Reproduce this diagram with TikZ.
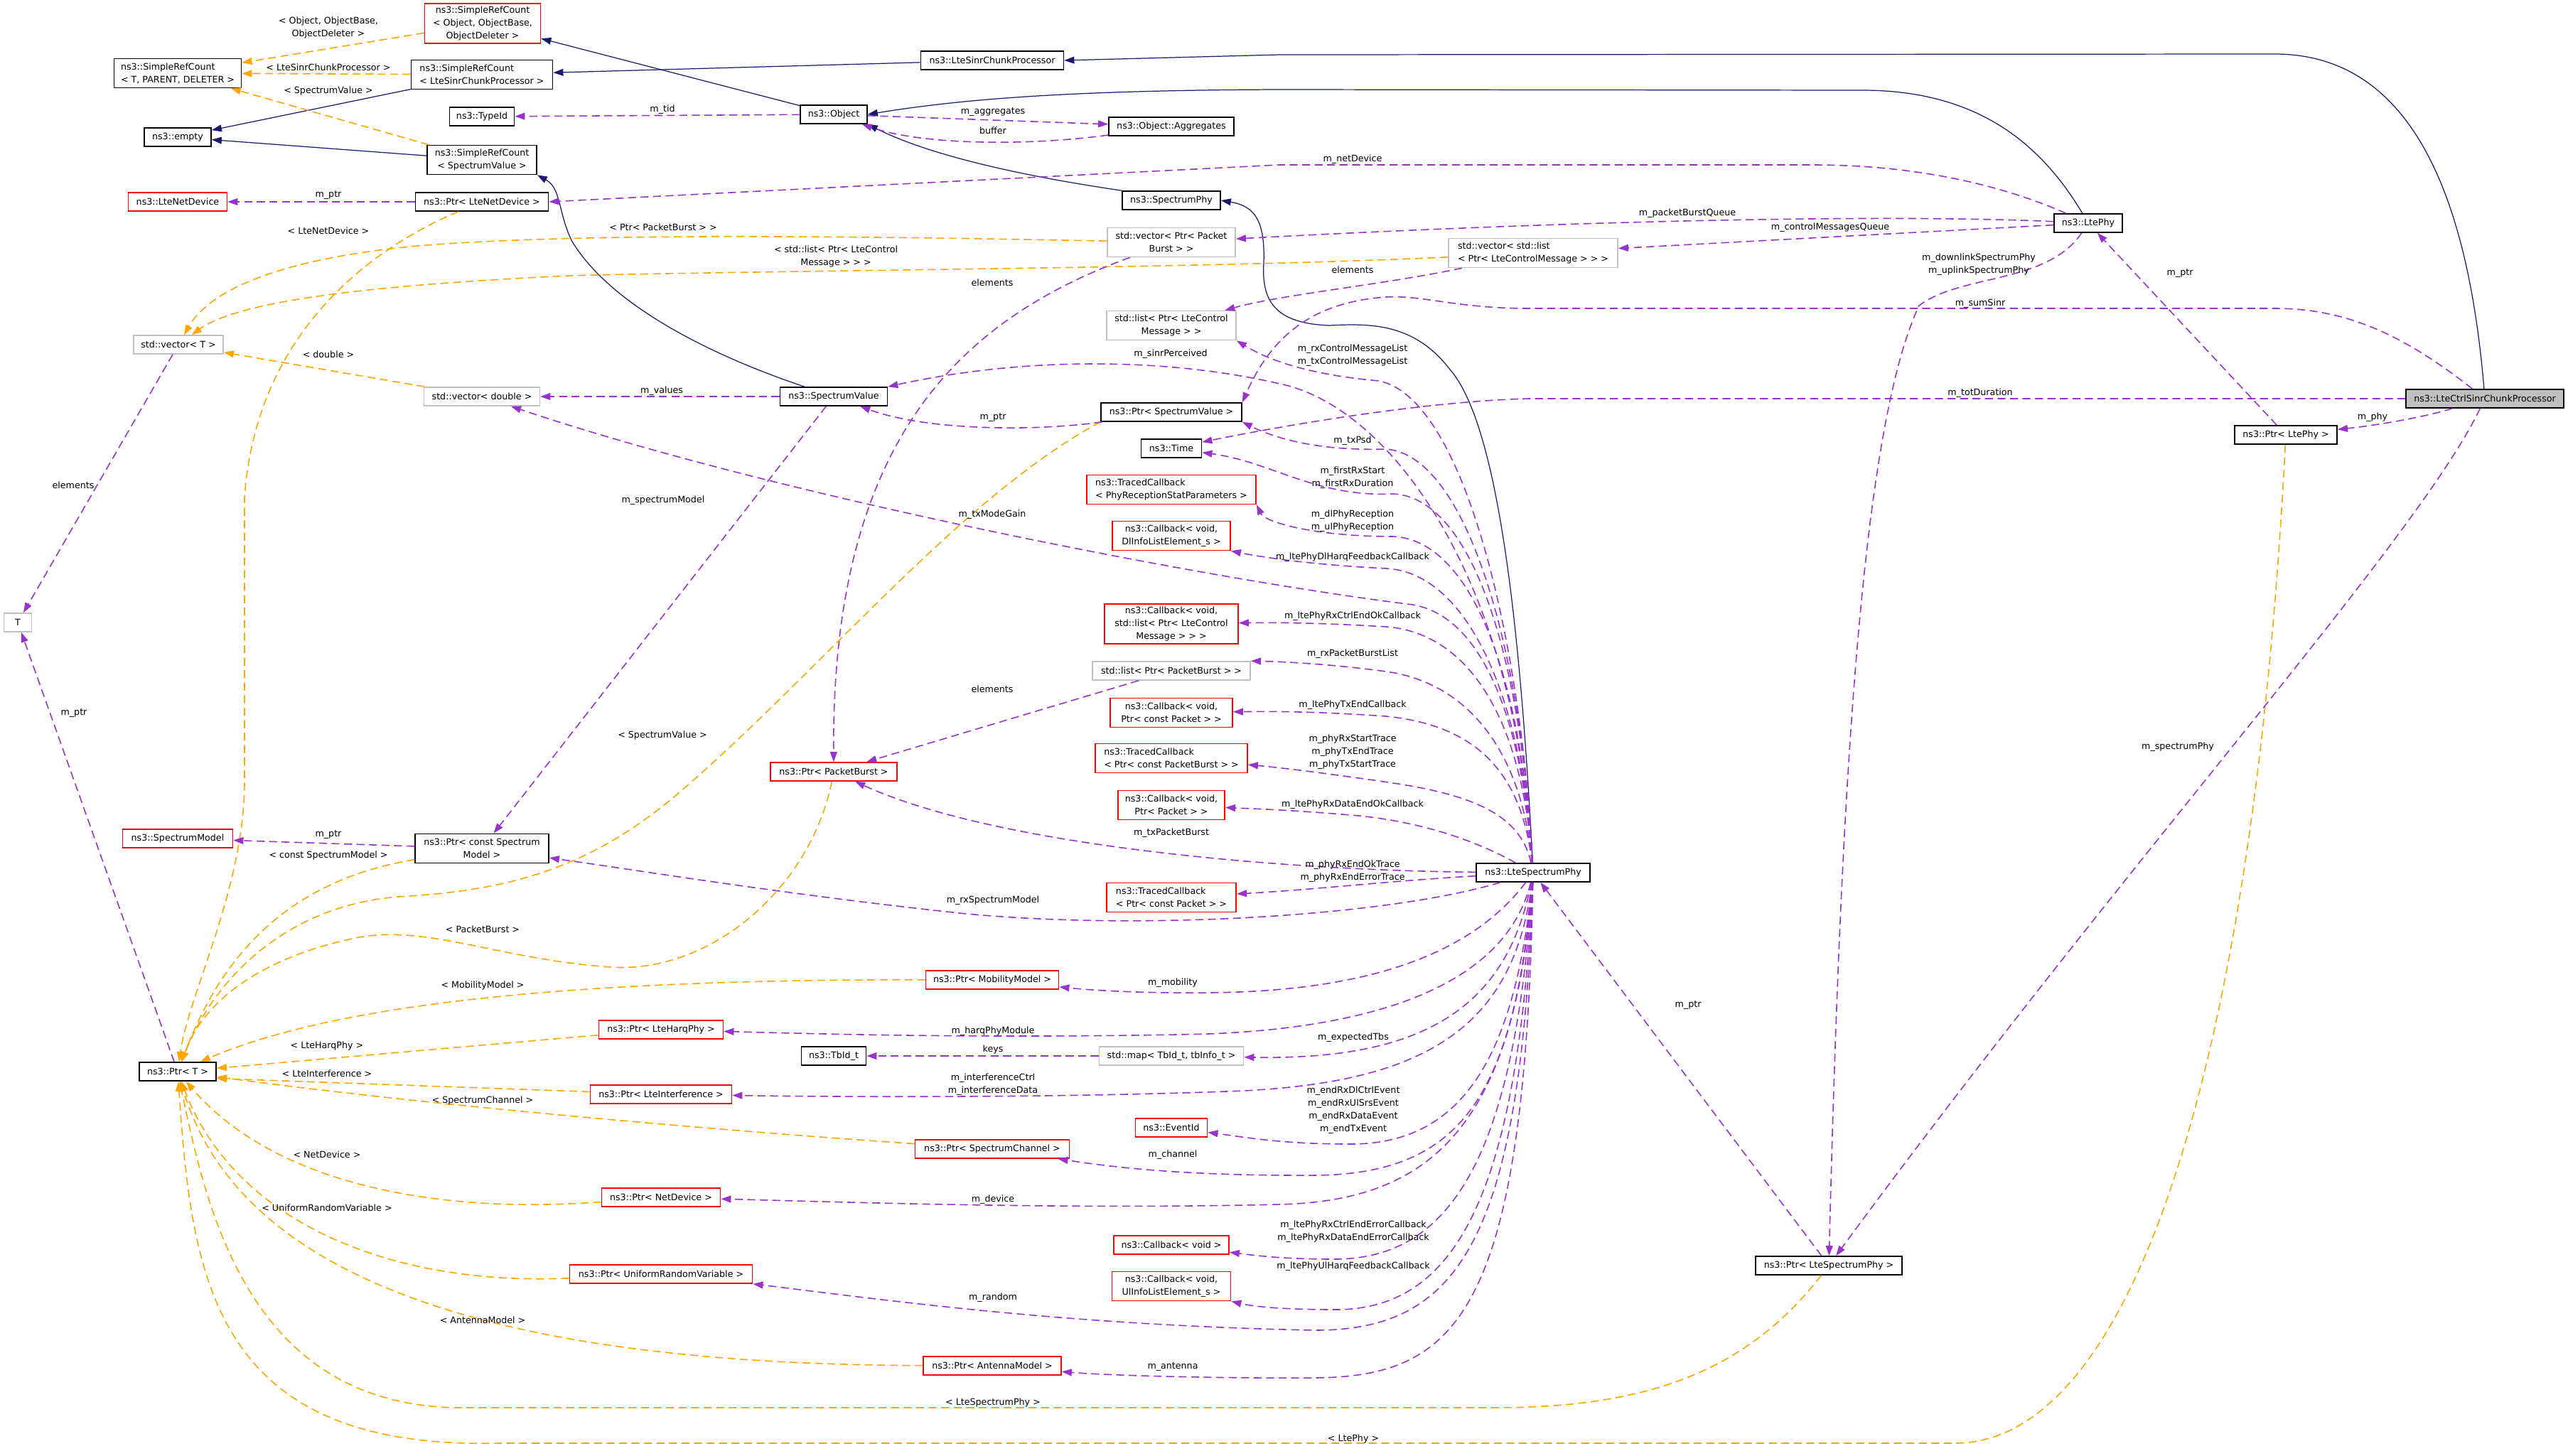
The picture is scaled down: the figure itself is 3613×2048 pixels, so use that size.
\documentclass[tikz,border=0pt]{standalone}
\usepackage{fontspec}
\setmainfont{DejaVu Sans}
\usepackage{tikz}
\usetikzlibrary{arrows.meta, positioning, calc}
\definecolor{edgenavy}{RGB}{25, 25, 112}
\definecolor{edgepurple}{RGB}{153, 50, 204}
\definecolor{edgeorange}{RGB}{255, 165, 0}
\definecolor{boxgray}{RGB}{191, 191, 191}

\begin{document}
\begin{tikzpicture}[
  x=0.01cm, y=-0.01cm,
  font=\fontsize{3.6}{5.1}\selectfont,
  cbox/.style={draw=black, fill=white, line width=0.45pt, inner sep=1pt, minimum height=0.26cm, align=center},
  rbox/.style={cbox, draw=red},
  gbox/.style={cbox, draw=boxgray},
  hbox/.style={cbox, fill=boxgray},
  two/.style={minimum height=0.41cm},
  three/.style={minimum height=0.56cm},
  inhline/.style={draw=edgenavy, line width=0.35pt, -{Stealth[inset=0pt, length=4pt, width=2.8pt]}},
  useline/.style={draw=edgepurple, line width=0.45pt, dash pattern=on 3.2pt off 1.8pt, -{Stealth[inset=0pt, length=4pt, width=2.8pt]}},
  tplline/.style={useline, draw=edgeorange},
  elabel/.style={inner sep=0.5pt, align=center}
]
  \useasboundingbox (0,0) rectangle (3613,2048);

  % classes
  \node[gbox, minimum width=0.39cm] (tparam) at (25,876) {T};
  \node[rbox, three, minimum width=1.63cm] (srcOOD) at (679,33) {ns3::SimpleRefCount\\< Object, ObjectBase,\\ObjectDeleter >};
  \node[cbox, two, minimum width=1.79cm, align=left] (srcT) at (250,103) {ns3::SimpleRefCount\\< T, PARENT, DELETER >};
  \node[cbox, two, minimum width=1.99cm, align=left] (srcLSCP) at (678,105) {ns3::SimpleRefCount\\< LteSinrChunkProcessor >};
  \node[cbox, minimum width=0.91cm] (typeId) at (678,164) {ns3::TypeId};
  \node[cbox, minimum width=0.94cm] (emptyCls) at (250,193) {ns3::empty};
  \node[cbox, two, minimum width=1.54cm] (srcSV) at (678,225) {ns3::SimpleRefCount\\< SpectrumValue >};
  \node[rbox, minimum width=1.39cm] (lteNetDev) at (250,284) {ns3::LteNetDevice};
  \node[cbox, minimum width=1.87cm] (ptrLteNetDev) at (678,284) {ns3::Ptr< LteNetDevice >};
  \node[gbox, minimum width=1.26cm] (vecT) at (251,485) {std::vector< T >};
  \node[gbox, minimum width=1.63cm] (vecDouble) at (678,558) {std::vector< double >};
  \node[rbox, minimum width=1.55cm] (specModel) at (250,1180) {ns3::SpectrumModel};
  \node[cbox, two, minimum width=1.88cm] (ptrSpecModel) at (678,1194) {ns3::Ptr< const Spectrum\\Model >};
  \node[cbox, minimum width=1.08cm] (ptrT) at (250,1508) {ns3::Ptr< T >};
  \node[rbox, minimum width=1.75cm] (ptrHarq) at (930,1449) {ns3::Ptr< LteHarqPhy >};
  \node[rbox, minimum width=1.99cm] (ptrInterf) at (930,1540) {ns3::Ptr< LteInterference >};
  \node[rbox, minimum width=1.67cm] (ptrNetDev) at (930,1685) {ns3::Ptr< NetDevice >};
  \node[rbox, minimum width=2.57cm] (ptrURV) at (930,1793) {ns3::Ptr< UniformRandomVariable >};
  \node[cbox, minimum width=2.01cm] (lscp) at (1396,85) {ns3::LteSinrChunkProcessor};
  \node[cbox, minimum width=0.94cm] (object) at (1173,161) {ns3::Object};
  \node[cbox, minimum width=1.51cm] (specValue) at (1173,558) {ns3::SpectrumValue};
  \node[rbox, minimum width=1.78cm] (ptrPB) at (1173,1086) {ns3::Ptr< PacketBurst >};
  \node[cbox, minimum width=0.91cm] (tbId) at (1173,1486) {ns3::TbId\_t};
  \node[rbox, minimum width=1.87cm] (ptrMob) at (1396,1379) {ns3::Ptr< MobilityModel >};
  \node[rbox, minimum width=2.17cm] (ptrChan) at (1396,1617) {ns3::Ptr< SpectrumChannel >};
  \node[rbox, minimum width=1.94cm] (ptrAnt) at (1396,1922) {ns3::Ptr< AntennaModel >};
  \node[cbox, minimum width=1.76cm] (aggr) at (1648,178) {ns3::Object::Aggregates};
  \node[cbox, minimum width=1.38cm] (specPhy) at (1648,282) {ns3::SpectrumPhy};
  \node[gbox, two, minimum width=1.80cm] (vecPB) at (1648,341) {std::vector< Ptr< Packet\\Burst > >};
  \node[gbox, two, minimum width=1.82cm] (listCtrl) at (1648,458) {std::list< Ptr< LteControl\\Message > >};
  \node[cbox, minimum width=1.98cm] (ptrSV) at (1648,580) {ns3::Ptr< SpectrumValue >};
  \node[cbox, minimum width=0.85cm] (timeCls) at (1648,631) {ns3::Time};
  \node[rbox, two, minimum width=2.38cm, align=left] (tcPhyRx) at (1648,689) {ns3::TracedCallback\\< PhyReceptionStatParameters >};
  \node[rbox, two, minimum width=1.66cm] (cbDl) at (1648,754) {ns3::Callback< void,\\DlInfoListElement\_s >};
  \node[rbox, three, minimum width=1.88cm] (cbCtrl) at (1648,878) {ns3::Callback< void,\\std::list< Ptr< LteControl\\Message > > >};
  \node[gbox, minimum width=2.22cm] (listPB) at (1648,944) {std::list< Ptr< PacketBurst > >};
  \node[rbox, two, minimum width=1.72cm] (cbTxEnd) at (1648,1003) {ns3::Callback< void,\\Ptr< const Packet > >};
  \node[rbox, two, minimum width=2.14cm, align=left] (tcPB) at (1648,1067) {ns3::TracedCallback\\< Ptr< const PacketBurst > >};
  \node[rbox, two, minimum width=1.50cm] (cbPkt) at (1648,1133) {ns3::Callback< void,\\Ptr< Packet > >};
  \node[rbox, two, minimum width=1.82cm, align=left] (tcPkt) at (1648,1263) {ns3::TracedCallback\\< Ptr< const Packet > >};
  \node[gbox, minimum width=2.03cm] (tbMap) at (1648,1486) {std::map< TbId\_t, tbInfo\_t >};
  \node[rbox, minimum width=1.01cm] (eventId) at (1648,1587) {ns3::EventId};
  \node[rbox, minimum width=1.62cm] (cbVoid) at (1648,1752) {ns3::Callback< void >};
  \node[rbox, two, minimum width=1.67cm] (cbUl) at (1648,1810) {ns3::Callback< void,\\UlInfoListElement\_s >};
  \node[gbox, two, minimum width=2.38cm, align=left] (vecList) at (2157,356) {std::vector< std::list\\< Ptr< LteControlMessage > > >};
  \node[cbox, minimum width=1.60cm] (lteSpecPhy) at (2157,1228) {ns3::LteSpectrumPhy};
  \node[cbox, minimum width=2.06cm] (ptrLSP) at (2573,1781) {ns3::Ptr< LteSpectrumPhy >};
  \node[cbox, minimum width=0.96cm] (ltePhy) at (2938,314) {ns3::LtePhy};
  \node[cbox, minimum width=1.44cm] (ptrLtePhy) at (3216,612) {ns3::Ptr< LtePhy >};
  \node[hbox, minimum width=2.22cm] (ctrlSinr) at (3496,561) {ns3::LteCtrlSinrChunkProcessor};

  % inheritance
  \draw[inhline] (object) -- (srcOOD);
  \draw[inhline] (lscp) -- (srcLSCP);
  \draw[inhline] (srcLSCP) -- (emptyCls);
  \draw[inhline] (srcSV) -- (emptyCls);
  \draw[inhline] (specValue) .. controls (1000,500) and (860,430) .. (805,340) .. controls (785,300) and (790,265) .. (srcSV.south east);
  \draw[inhline] (specPhy.north west) .. controls (1420,245) and (1300,215) .. (object.south east);
  \draw[inhline] (lteSpecPhy) .. controls (2140,900) and (2110,600) .. (2040,520) .. controls (1990,455) and (1930,455) .. (1870,458) .. controls (1790,455) and (1775,420) .. (1778,370) .. controls (1780,310) and (1765,290) .. (specPhy.east);
  \draw[inhline] (ltePhy) .. controls (2870,200) and (2780,127) .. (2620,127) -- (1800,126) .. controls (1500,127) and (1350,140) .. (object.east);
  \draw[inhline] (ctrlSinr) .. controls (3470,250) and (3380,76) .. (3200,76) -- (1800,77) -- (lscp.east);

  % template instances
  \draw[tplline] (srcOOD) -- (srcT);
  \draw[tplline] (srcLSCP) -- (srcT);
  \draw[tplline] (srcSV) -- (srcT);
  \draw[tplline] (ptrLteNetDev) .. controls (520,350) and (360,470) .. (344,700) -- (344,1100) .. controls (344,1250) and (265,1400) .. (ptrT);
  \draw[tplline] (vecPB) .. controls (1100,330) and (800,330) .. (600,345) .. controls (420,360) and (300,400) .. (vecT);
  \draw[tplline] (vecList) .. controls (1700,378) and (1100,380) .. (800,388) .. controls (550,400) and (340,420) .. (vecT);
  \draw[tplline] (vecDouble) -- (vecT);
  \draw[tplline] (ptrSV.south west) .. controls (1350,700) and (1150,950) .. (950,1120) .. controls (820,1230) and (700,1254) .. (560,1262) .. controls (400,1275) and (300,1380) .. (ptrT);
  \draw[tplline] (ptrSpecModel) .. controls (400,1240) and (310,1350) .. (ptrT);
  \draw[tplline] (ptrPB) .. controls (1140,1250) and (1000,1370) .. (860,1361) .. controls (700,1350) and (600,1300) .. (500,1320) .. controls (380,1345) and (290,1400) .. (ptrT);
  \draw[tplline] (ptrMob) .. controls (900,1378) and (500,1400) .. (ptrT);
  \draw[tplline] (ptrHarq) -- (ptrT);
  \draw[tplline] (ptrInterf) -- ($(ptrT.east)!0.7!(ptrT.south east)$);
  \draw[tplline] (ptrChan) .. controls (1000,1590) and (600,1555) .. (ptrT);
  \draw[tplline] (ptrNetDev) .. controls (600,1710) and (380,1660) .. (ptrT);
  \draw[tplline] (ptrURV) .. controls (550,1810) and (330,1720) .. (ptrT);
  \draw[tplline] (ptrAnt) .. controls (800,1920) and (350,1840) .. (ptrT);
  \draw[tplline] (ptrLSP) .. controls (2450,1940) and (2300,1981) .. (2100,1981) -- (650,1981) .. controls (350,1981) and (290,1700) .. (ptrT);
  \draw[tplline] (ptrLtePhy) .. controls (3170,1500) and (3000,2031) .. (2750,2031) -- (700,2031) .. controls (300,2040) and (270,1800) .. (ptrT);

  % members
  \draw[useline] (object) -- (typeId);
  \draw[useline] (object) -- (aggr);
  \draw[useline] (aggr) .. controls (1450,205) and (1300,205) .. (object);
  \draw[useline] (ltePhy) .. controls (2820,262) and (2700,232) .. (2550,232) -- (1800,232) -- (ptrLteNetDev.east);
  \draw[useline] (ltePhy) .. controls (2700,303) and (2300,306) .. (vecPB);
  \draw[useline] (ltePhy) -- (vecList);
  \draw[useline] (vecPB) .. controls (1350,450) and (1170,620) .. (ptrPB);
  \draw[useline] (vecList) .. controls (1950,400) and (1800,415) .. (listCtrl);
  \draw[useline] (specValue) -- (vecDouble);
  \draw[useline] (specValue) -- (ptrSpecModel);
  \draw[useline] (ptrSV) .. controls (1450,608) and (1300,605) .. (specValue);
  \draw[useline] (listPB) -- (ptrPB);
  \draw[useline] (ptrSpecModel) -- (specModel);
  \draw[useline] (ptrLteNetDev) -- (lteNetDev);
  \draw[useline] (vecT) -- (tparam);
  \draw[useline] (ptrT) -- (tparam);
  \draw[useline] (ptrLSP) -- (lteSpecPhy);
  \draw[useline] (ltePhy) .. controls (2880,400) and (2760,385) .. (2700,430) .. controls (2620,600) and (2590,1100) .. (ptrLSP);
  \draw[useline] (ctrlSinr) .. controls (3400,590) and (3330,600) .. (ptrLtePhy);
  \draw[useline] (ptrLtePhy) -- (ltePhy);
  \draw[useline] (ctrlSinr) .. controls (3400,760) and (3000,1200) .. (ptrLSP);
  \draw[useline] (ctrlSinr) .. controls (3380,470) and (3300,434) .. (3200,434) -- (2150,434) .. controls (2050,434) and (2000,415) .. (1950,418) .. controls (1850,425) and (1790,470) .. (ptrSV.north east);
  \draw[useline] (ctrlSinr) -- (2150,561) .. controls (2000,565) and (1800,600) .. (timeCls);
  \draw[useline] (tbMap) -- (tbId);

  % members of LteSpectrumPhy
  \draw[useline] (lteSpecPhy) .. controls (2130,800) and (1950,570) .. (1800,540) .. controls (1650,505) and (1450,500) .. (specValue.north east);
  \draw[useline] (lteSpecPhy) .. controls (2140,900) and (2060,560) .. (1940,536) .. controls (1850,528) and (1790,510) .. (listCtrl.south east);
  \draw[useline] (lteSpecPhy) .. controls (2140,900) and (2060,640) .. (1950,632) .. controls (1850,635) and (1790,615) .. (ptrSV.south east);
  \draw[useline] (lteSpecPhy) .. controls (2140,920) and (2070,700) .. (1960,695) .. controls (1850,700) and (1790,650) .. (timeCls);
  \draw[useline] (lteSpecPhy) .. controls (2140,950) and (2070,760) .. (1960,755) .. controls (1850,755) and (1780,735) .. (tcPhyRx.south east);
  \draw[useline] (lteSpecPhy) .. controls (2140,970) and (2060,805) .. (1950,800) .. controls (1850,795) and (1780,785) .. (cbDl.south east);
  \draw[useline] (lteSpecPhy) .. controls (2140,1000) and (2080,860) .. (1980,850) .. controls (1700,815) and (1100,700) .. (vecDouble);
  \draw[useline] (lteSpecPhy) .. controls (2140,1000) and (2060,890) .. (1950,882) .. controls (1850,876) and (1790,876) .. (cbCtrl);
  \draw[useline] (lteSpecPhy) .. controls (2140,1050) and (2060,960) .. (1950,945) .. controls (1870,934) and (1800,931) .. (listPB.north east);
  \draw[useline] (lteSpecPhy) .. controls (2140,1080) and (2070,1020) .. (1950,1008) .. controls (1850,1001) and (1790,1001) .. (cbTxEnd);
  \draw[useline] (lteSpecPhy) .. controls (2140,1150) and (2080,1120) .. (1960,1102) .. controls (1880,1090) and (1800,1080) .. (tcPB);
  \draw[useline] (lteSpecPhy) .. controls (2080,1185) and (2000,1155) .. (1900,1147) .. controls (1820,1140) and (1760,1138) .. (cbPkt);
  \draw[useline] (lteSpecPhy) .. controls (1800,1225) and (1400,1190) .. (ptrPB);
  \draw[useline] (lteSpecPhy) .. controls (1950,1240) and (1850,1252) .. (tcPkt);
  \draw[useline] (lteSpecPhy) .. controls (1950,1290) and (1600,1310) .. (1350,1285) .. controls (1100,1258) and (900,1225) .. (ptrSpecModel);
  \draw[useline] (lteSpecPhy) .. controls (2080,1330) and (1950,1395) .. (1700,1397) .. controls (1600,1398) and (1530,1393) .. (ptrMob);
  \draw[useline] (lteSpecPhy) .. controls (2120,1380) and (1950,1445) .. (1700,1455) .. controls (1400,1462) and (1150,1455) .. (ptrHarq);
  \draw[useline] (lteSpecPhy) .. controls (2120,1420) and (2000,1492) .. (tbMap);
  \draw[useline] (lteSpecPhy) .. controls (2130,1450) and (2000,1522) .. (1750,1535) .. controls (1500,1545) and (1200,1544) .. (ptrInterf);
  \draw[useline] (lteSpecPhy) .. controls (2130,1500) and (2050,1610) .. (1900,1610) .. controls (1800,1610) and (1750,1600) .. (eventId);
  \draw[useline] (lteSpecPhy) .. controls (2130,1550) and (2050,1652) .. (1850,1654) .. controls (1650,1655) and (1550,1640) .. (ptrChan);
  \draw[useline] (lteSpecPhy) .. controls (2130,1600) and (2000,1690) .. (1800,1695) .. controls (1500,1702) and (1200,1692) .. (ptrNetDev);
  \draw[useline] (lteSpecPhy) .. controls (2130,1650) and (2030,1770) .. (1880,1772) .. controls (1800,1772) and (1760,1766) .. (cbVoid);
  \draw[useline] (lteSpecPhy) .. controls (2135,1700) and (2040,1842) .. (1880,1843) .. controls (1800,1843) and (1760,1838) .. (cbUl.south east);
  \draw[useline] (lteSpecPhy) .. controls (2140,1750) and (2050,1872) .. (1850,1872) .. controls (1500,1865) and (1250,1830) .. (ptrURV.south east);
  \draw[useline] (lteSpecPhy) .. controls (2145,1850) and (2050,1937) .. (1850,1939) .. controls (1700,1940) and (1550,1935) .. (ptrAnt);

  % template labels
  \node[elabel] (lbOOD) at (462,39) {< Object, ObjectBase,\\ObjectDeleter >};
  \node[elabel] (lbLSCP) at (462,95) {< LteSinrChunkProcessor >};
  \node[elabel] (lbSV1) at (462,128) {< SpectrumValue >};
  \node[elabel] (lbLND) at (462,325) {< LteNetDevice >};
  \node[elabel] (lbPPB) at (933,320) {< Ptr< PacketBurst > >};
  \node[elabel] (lbLCM) at (1176,361) {< std::list< Ptr< LteControl\\Message > > >};
  \node[elabel] (lbDbl) at (462,499) {< double >};
  \node[elabel] (lbSV2) at (932,1035) {< SpectrumValue >};
  \node[elabel] (lbCSM) at (462,1204) {< const SpectrumModel >};
  \node[elabel] (lbPB) at (679,1308) {< PacketBurst >};
  \node[elabel] (lbMob) at (679,1387) {< MobilityModel >};
  \node[elabel] (lbHarq) at (460,1472) {< LteHarqPhy >};
  \node[elabel] (lbIntf) at (460,1511) {< LteInterference >};
  \node[elabel] (lbChan) at (679,1549) {< SpectrumChannel >};
  \node[elabel] (lbND) at (460,1625) {< NetDevice >};
  \node[elabel] (lbURV) at (460,1700) {< UniformRandomVariable >};
  \node[elabel] (lbAnt) at (679,1858) {< AntennaModel >};
  \node[elabel] (lbLSP) at (1397,1974) {< LteSpectrumPhy >};
  \node[elabel] (lbLP) at (1904,2025) {< LtePhy >};

  % member labels
  \node[elabel] (lbTid) at (932,154) {m\_tid};
  \node[elabel] (lbAggr) at (1397,158) {m\_aggregates};
  \node[elabel] (lbBuf) at (1397,184) {buffer};
  \node[elabel] (lbNetDev) at (1903,224) {m\_netDevice};
  \node[elabel] (lbPBQ) at (2374,300) {m\_packetBurstQueue};
  \node[elabel] (lbCMQ) at (2575,320) {m\_controlMessagesQueue};
  \node[elabel] (lbEl1) at (1396,398) {elements};
  \node[elabel] (lbEl2) at (1903,380) {elements};
  \node[elabel] (lbVal) at (931,550) {m\_values};
  \node[elabel] (lbSpecM) at (933,704) {m\_spectrumModel};
  \node[elabel] (lbPtrSV) at (1397,588) {m\_ptr};
  \node[elabel] (lbEl3) at (1396,970) {elements};
  \node[elabel] (lbPtrSM) at (462,1175) {m\_ptr};
  \node[elabel] (lbPtrND) at (462,275) {m\_ptr};
  \node[elabel] (lbEl4) at (103,683) {elements};
  \node[elabel] (lbPtrT) at (104,1004) {m\_ptr};
  \node[elabel] (lbPtrLSP) at (2375,1415) {m\_ptr};
  \node[elabel] (lbDlUl) at (2784,372) {m\_downlinkSpectrumPhy\\m\_uplinkSpectrumPhy};
  \node[elabel] (lbPhy) at (3338,587) {m\_phy};
  \node[elabel] (lbPtrLP) at (3067,385) {m\_ptr};
  \node[elabel] (lbSpPhy) at (3064,1051) {m\_spectrumPhy};
  \node[elabel] (lbSum) at (2786,427) {m\_sumSinr};
  \node[elabel] (lbTot) at (2786,553) {m\_totDuration};
  \node[elabel] (lbSinrP) at (1647,498) {m\_sinrPerceived};
  \node[elabel] (lbCtrlL) at (1903,500) {m\_rxControlMessageList\\m\_txControlMessageList};
  \node[elabel] (lbPsd) at (1903,620) {m\_txPsd};
  \node[elabel] (lbFirst) at (1903,672) {m\_firstRxStart\\m\_firstRxDuration};
  \node[elabel] (lbRecep) at (1903,733) {m\_dlPhyReception\\m\_ulPhyReception};
  \node[elabel] (lbDlHarq) at (1903,784) {m\_ltePhyDlHarqFeedbackCallback};
  \node[elabel] (lbMode) at (1396,724) {m\_txModeGain};
  \node[elabel] (lbCtrlOk) at (1903,867) {m\_ltePhyRxCtrlEndOkCallback};
  \node[elabel] (lbRxPBL) at (1903,920) {m\_rxPacketBurstList};
  \node[elabel] (lbTxEnd) at (1903,992) {m\_ltePhyTxEndCallback};
  \node[elabel] (lbTrace) at (1903,1058) {m\_phyRxStartTrace\\m\_phyTxEndTrace\\m\_phyTxStartTrace};
  \node[elabel] (lbDataOk) at (1903,1132) {m\_ltePhyRxDataEndOkCallback};
  \node[elabel] (lbTxPB) at (1648,1172) {m\_txPacketBurst};
  \node[elabel] (lbEndOk) at (1903,1226) {m\_phyRxEndOkTrace\\m\_phyRxEndErrorTrace};
  \node[elabel] (lbRxSM) at (1397,1267) {m\_rxSpectrumModel};
  \node[elabel] (lbMobil) at (1650,1383) {m\_mobility};
  \node[elabel] (lbHarqM) at (1397,1451) {m\_harqPhyModule};
  \node[elabel] (lbKeys) at (1397,1477) {keys};
  \node[elabel] (lbTbs) at (1904,1460) {m\_expectedTbs};
  \node[elabel] (lbIntfM) at (1397,1526) {m\_interferenceCtrl\\m\_interferenceData};
  \node[elabel] (lbEvt) at (1904,1562) {m\_endRxDlCtrlEvent\\m\_endRxUlSrsEvent\\m\_endRxDataEvent\\m\_endTxEvent};
  \node[elabel] (lbChanM) at (1650,1625) {m\_channel};
  \node[elabel] (lbDev) at (1397,1688) {m\_device};
  \node[elabel] (lbErr) at (1904,1733) {m\_ltePhyRxCtrlEndErrorCallback\\m\_ltePhyRxDataEndErrorCallback};
  \node[elabel] (lbUlHarq) at (1904,1782) {m\_ltePhyUlHarqFeedbackCallback};
  \node[elabel] (lbRand) at (1397,1826) {m\_random};
  \node[elabel] (lbAntM) at (1650,1924) {m\_antenna};
\end{tikzpicture}
\end{document}
